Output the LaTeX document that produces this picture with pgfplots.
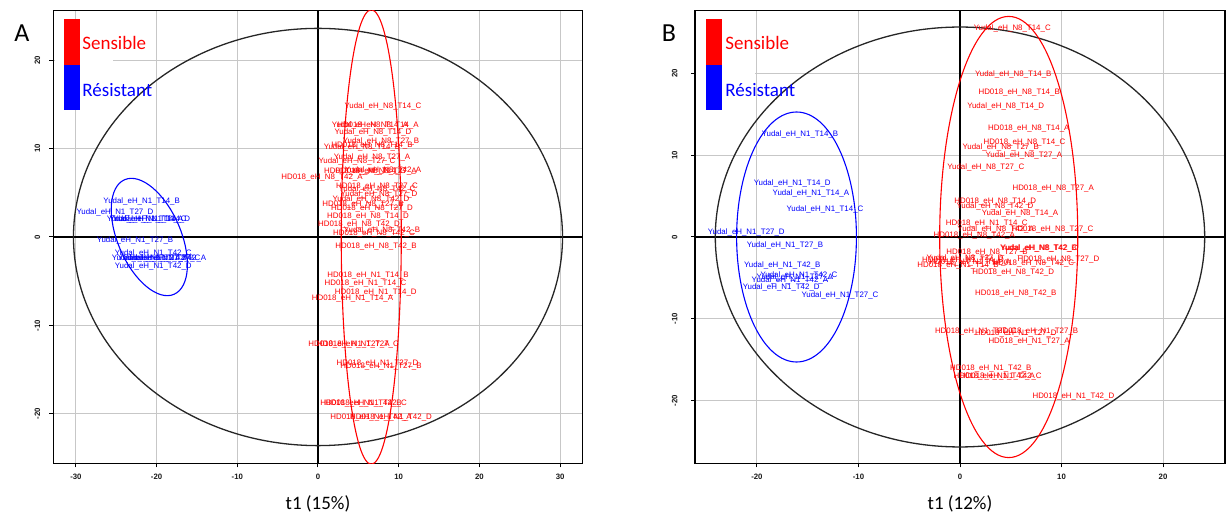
\documentclass[border=0pt]{standalone}
\usepackage{fontspec}
\setmainfont{Liberation Sans}
\newfontfamily\calibri{Carlito}
\usepackage{pgfplots}
\usepackage{pgfplotstable}
\pgfplotsset{compat=1.18}

\pgfplotstableread{
x y lab
8.05 14.72 Yudal\_eH\_N8\_T14\_C
6.44 12.58 Yudal\_eH\_N8\_T14\_A
7.43 12.58 HD018\_eH\_N8\_T14\_A
6.82 11.79 Yudal\_eH\_N8\_T14\_D
7.81 10.77 Yudal\_eH\_N8\_T27\_B
6.69 10.32 HD018\_eH\_N8\_T14\_B
5.45 10.09 Yudal\_eH\_N8\_T14\_B
6.69 8.96 Yudal\_eH\_N8\_T27\_A
4.83 8.51 Yudal\_eH\_N8\_T27\_C
8.05 7.49 Yudal\_eH\_N8\_T42\_A
7.19 7.38 HD018\_eH\_N8\_T27\_A
5.82 7.38 HD018\_eH\_N8\_T14\_C
0.50 6.70 HD018\_eH\_N8\_T42\_A
7.31 5.68 HD018\_eH\_N8\_T27\_C
7.31 5.34 Yudal\_eH\_N8\_T42\_C
7.56 4.78 Yudal\_eH\_N8\_T27\_D
6.57 4.21 Yudal\_eH\_N8\_T42\_D
5.58 3.64 HD018\_eH\_N8\_T27\_B
6.69 3.19 HD018\_eH\_N8\_T27\_D
6.20 2.29 HD018\_eH\_N8\_T14\_D
5.08 1.39 HD018\_eH\_N8\_T42\_D
7.93 0.71 Yudal\_eH\_N8\_T42\_B
6.94 0.37 HD018\_eH\_N8\_T42\_C
7.19 -1.09 HD018\_eH\_N8\_T42\_B
6.20 -4.37 HD018\_eH\_N1\_T14\_B
5.89 -5.28 HD018\_eH\_N1\_T14\_C
7.16 -6.33 HD018\_eH\_N1\_T14\_D
4.28 -7.01 HD018\_eH\_N1\_T14\_A
3.84 -12.17 HD018\_eH\_N1\_T27\_A
4.96 -12.17 HD018\_eH\_N1\_T27\_C
7.37 -14.32 HD018\_eH\_N1\_T27\_D
7.81 -14.69 HD018\_eH\_N1\_T27\_B
5.33 -18.87 HD018\_eH\_N1\_T42\_B
5.95 -18.87 HD018\_eH\_N1\_T42\_C
6.57 -20.45 HD018\_eH\_N1\_T42\_A
9.05 -20.45 HD018\_eH\_N1\_T42\_D
}\redA

\pgfplotstableread{
x y lab
-21.85 4.02 Yudal\_eH\_N1\_T14\_B
-25.15 2.78 Yudal\_eH\_N1\_T27\_D
-21.44 2.03 Yudal\_eH\_N1\_T14\_A
-21.07 2.03 Yudal\_eH\_N1\_T14\_C
-20.61 2.03 Yudal\_eH\_N1\_T14\_D
-22.68 -0.42 Yudal\_eH\_N1\_T27\_B
-20.41 -1.81 Yudal\_eH\_N1\_T42\_C
-20.82 -2.37 Yudal\_eH\_N1\_T27\_A
-20.07 -2.37 Yudal\_eH\_N1\_T42\_B
-19.33 -2.37 Yudal\_eH\_N1\_T27\_C
-18.59 -2.37 Yudal\_eH\_N1\_T42\_A
-20.41 -3.32 Yudal\_eH\_N1\_T42\_D
}\blueA

\pgfplotstableread{
x y lab
5.15 25.58 Yudal\_eH\_N8\_T14\_C
5.25 19.95 Yudal\_eH\_N8\_T14\_B
5.83 17.63 HD018\_eH\_N8\_T14\_B
4.50 15.99 Yudal\_eH\_N8\_T14\_D
6.78 13.22 HD018\_eH\_N8\_T14\_A
6.35 11.51 HD018\_eH\_N8\_T14\_C
4.02 11.02 Yudal\_eH\_N8\_T27\_B
6.29 9.95 Yudal\_eH\_N8\_T27\_A
2.54 8.57 Yudal\_eH\_N8\_T27\_C
9.18 5.88 HD018\_eH\_N8\_T27\_A
3.47 4.36 HD018\_eH\_N8\_T14\_D
3.45 3.75 Yudal\_eH\_N8\_T42\_D
5.91 2.85 Yudal\_eH\_N8\_T14\_A
2.64 1.59 HD018\_eH\_N1\_T14\_C
3.51 0.98 Yudal\_eH\_N8\_T42\_A
9.11 0.89 HD018\_eH\_N8\_T27\_C
1.40 0.16 HD018\_eH\_N8\_T42\_A
7.72 -1.35 Yudal\_eH\_N8\_T42\_B
7.82 -1.40 Yudal\_eH\_N8\_T42\_C
2.66 -1.96 HD018\_eH\_N8\_T27\_B
0.49 -2.66 Yudal\_eH\_N8\_T27\_D
9.69 -2.78 HD018\_eH\_N8\_T27\_D
7.22 -3.27 HD018\_eH\_N8\_T42\_C
-0.20 -3.51 HD018\_eH\_N1\_T14\_B
1.00 -3.10 HD018\_eH\_N1\_T14\_A
0.30 -2.90 HD018\_eH\_N1\_T14\_D
5.24 -4.41 HD018\_eH\_N8\_T42\_D
5.50 -6.94 HD018\_eH\_N8\_T42\_B
1.56 -11.55 HD018\_eH\_N1\_T27\_C
7.64 -11.55 HD018\_eH\_N1\_T27\_B
5.50 -11.84 HD018\_eH\_N1\_T27\_D
6.81 -12.78 HD018\_eH\_N1\_T27\_A
3.04 -16.16 HD018\_eH\_N1\_T42\_B
3.37 -17.06 HD018\_eH\_N1\_T42\_A
4.02 -17.06 HD018\_eH\_N1\_T42\_C
11.17 -19.58 HD018\_eH\_N1\_T42\_D
}\redB

\pgfplotstableread{
x y lab
-15.76 12.52 Yudal\_eH\_N1\_T14\_B
-16.52 6.52 Yudal\_eH\_N1\_T14\_D
-14.68 5.39 Yudal\_eH\_N1\_T14\_A
-13.30 3.34 Yudal\_eH\_N1\_T14\_C
-21.05 0.61 Yudal\_eH\_N1\_T27\_D
-17.24 -1.03 Yudal\_eH\_N1\_T27\_B
-17.50 -3.51 Yudal\_eH\_N1\_T42\_B
-15.86 -4.65 Yudal\_eH\_N1\_T42\_C
-16.26 -4.98 Yudal\_eH\_N1\_T27\_A
-16.75 -5.35 Yudal\_eH\_N1\_T42\_A
-17.61 -6.17 Yudal\_eH\_N1\_T42\_D
-11.82 -7.15 Yudal\_eH\_N1\_T27\_C
}\blueB

\pgfplotsset{
  pca/.style={
    scale only axis, height=226.3pt, anchor=south west,
    axis line style={line width=0.75pt, black},
    tick align=outside, tick pos=left, major tick length=2pt,
    tick style={black, line width=0.5pt},
    grid=major, major grid style={line width=0.55pt, color=black!22},
    /pgf/number format/assume math mode=true,
    ticklabel style={font=\bfseries\fontsize{3.9}{4.2}\selectfont, text=black!90},
    xticklabel style={anchor=north, inner sep=0pt},
    yticklabel style={rotate=90, anchor=south, inner sep=0pt},
    xticklabel shift=3.4pt,
  },
  lab/.style={only marks, mark=none, nodes near coords, point meta=explicit symbolic,
    nodes near coords style={font=\fontsize{3.95}{4.1}\selectfont, anchor=center, inner sep=0pt, text=#1}},
}

\begin{document}
\begin{tikzpicture}
\useasboundingbox (0pt,0pt) rectangle (614pt,256.5pt);

% ---------------- Panel A
\begin{axis}[pca, at={(26.65pt,24.85pt)}, width=264.7pt,
  xmin=-32.8, xmax=32.8, ymin=-25.6, ymax=25.6,
  xtick={-30,-20,-10,0,10,20,30}, ytick={-20,-10,0,10,20},
  yticklabel shift=4.4pt]
\addplot[black, line width=0.6pt] coordinates {(0,-25.6) (0,25.6)};
\addplot[black, line width=0.6pt] coordinates {(-32.8,0) (32.8,0)};
\draw[black!85, line width=0.65pt] (axis cs:0,0) ellipse [x radius=30.3, y radius=23.6];
\draw[red, line width=0.55pt] (axis cs:6.6,0) ellipse [x radius=3.72, y radius=25.7];
\coordinate (bcA) at (axis cs:-20.9,0);
\addplot[lab=red] table[meta=lab] {\redA};
\addplot[lab=blue] table[meta=lab] {\blueA};
\end{axis}
\draw[blue, line width=0.55pt, shift={(bcA)}, rotate=23.3] (0,0) ellipse [x radius=15.8pt, y radius=31.2pt];

% ---------------- Panel B
\begin{axis}[pca, at={(347.5pt,24.85pt)}, width=265pt,
  xmin=-26.1, xmax=26.1, ymin=-27.7, ymax=27.7,
  xtick={-20,-10,0,10,20}, ytick={-20,-10,0,10,20},
  yticklabel shift=6.6pt]
\addplot[black, line width=0.6pt] coordinates {(0,-27.7) (0,27.7)};
\addplot[black, line width=0.6pt] coordinates {(-26.1,0) (26.1,0)};
\draw[black!85, line width=0.65pt] (axis cs:0,0) ellipse [x radius=24.1, y radius=25.7];
\draw[red, line width=0.55pt] (axis cs:4.8,0) ellipse [x radius=6.8, y radius=27.0];
\draw[blue, line width=0.55pt] (axis cs:-16.1,0) ellipse [x radius=5.9, y radius=15.3];
\addplot[lab=red] table[meta=lab] {\redB};
\addplot[lab=blue] table[meta=lab] {\blueB};
\end{axis}

% ---------------- legends and labels
\fill[white] (27.3pt,201.5pt) rectangle (56.5pt,247pt);
\fill[red] (32pt,224pt) rectangle (40pt,246.85pt);
\fill[blue] (32pt,201.5pt) rectangle (40pt,224pt);
\node[anchor=base west, inner sep=0pt, text=red, font=\calibri\fontsize{9.5}{10}\selectfont] at (41pt,231.5pt) {Sensible};
\node[anchor=base west, inner sep=0pt, text=blue, font=\calibri\fontsize{9.5}{10}\selectfont] at (41pt,208.2pt) {Résistant};

\fill[white] (348.2pt,201.5pt) rectangle (377.5pt,247pt);
\fill[red] (353pt,224pt) rectangle (360.85pt,246.85pt);
\fill[blue] (353pt,201.5pt) rectangle (360.85pt,224pt);
\node[anchor=base west, inner sep=0pt, text=red, font=\calibri\fontsize{9.5}{10}\selectfont] at (362.5pt,231.5pt) {Sensible};
\node[anchor=base west, inner sep=0pt, text=blue, font=\calibri\fontsize{9.5}{10}\selectfont] at (362.5pt,208.2pt) {Résistant};

\node[font=\calibri\fontsize{13}{14}\selectfont, inner sep=0pt] at (11pt,239.75pt) {A};
\node[font=\calibri\fontsize{13}{14}\selectfont, inner sep=0pt] at (334.5pt,239.75pt) {B};
\node[font=\calibri\fontsize{9.5}{10}\selectfont, inner sep=0pt] at (159pt,4.6pt) {t1 (15\%)};
\node[font=\calibri\fontsize{9.5}{10}\selectfont, inner sep=0pt] at (480pt,4.6pt) {t1 (12\%)};
\end{tikzpicture}
\end{document}
